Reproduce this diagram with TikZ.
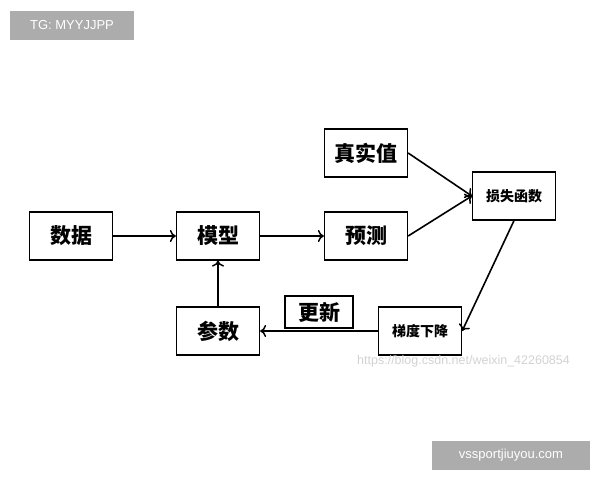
\documentclass[tikz,border=0pt]{standalone}
\usepackage{fontspec}
\setmainfont{Liberation Sans}
\newfontfamily\cjk{Noto Sans CJK SC}
\usetikzlibrary{positioning, arrows.meta}
\begin{document}
\begin{tikzpicture}[x=1pt, y=-1pt,
  box/.style={draw, line width=1.3pt, minimum width=83pt, minimum height=48pt, font=\cjk\bfseries\fontsize{21}{21}\selectfont},
  sbox/.style={box, font=\cjk\bfseries\fontsize{14}{14}\selectfont},
  arr/.style={-{To[length=6pt, width=12pt, line width=1.5pt]}, line width=1.6pt},
  tag/.style={fill=gray!65, text=white, font=\fontsize{13}{13}\selectfont, inner sep=0pt}]
\useasboundingbox (0,0) rectangle (600,480);
% 方框
\node[box] (data) at (71,236) {数据};
\node[box] (model) at (218,236) {模型};
\node[box] (pred) at (366,236) {预测};
\node[box] (truth) at (366,153) {真实值};
\node[sbox] (loss) at (514,196) {损失函数};
\node[sbox] (grad) at (420,331) {梯度下降};
\node[box] (param) at (218,331) {参数};
\node[draw, line width=1.3pt, minimum width=68pt, minimum height=32pt, font=\cjk\bfseries\fontsize{21}{21}\selectfont] (upd) at (319,312) {更新};
% 箭头
\draw[arr] (data) -- (model);
\draw[arr] (model) -- (pred);
\draw[arr] (truth.east) -- (loss.west);
\draw[arr] (pred.east) -- (loss.west);
\draw[arr] (loss.south) -- (grad.east);
\draw[arr] (grad) -- (param);
\draw[arr] (param) -- (model);
% 水印
\node[text=gray!35, font=\fontsize{12.5}{12.5}\selectfont, anchor=west, inner sep=0pt] (wm) at (357,361) {https://blog.csdn.net/weixin\_42260854};
\node[tag, minimum width=124pt, minimum height=29pt] (tg) at (72,25) {TG: MYYJJPP};
\node[tag, minimum width=158pt, minimum height=29pt] (site) at (511,455) {vssportjiuyou.com};
\end{tikzpicture}
\end{document}
